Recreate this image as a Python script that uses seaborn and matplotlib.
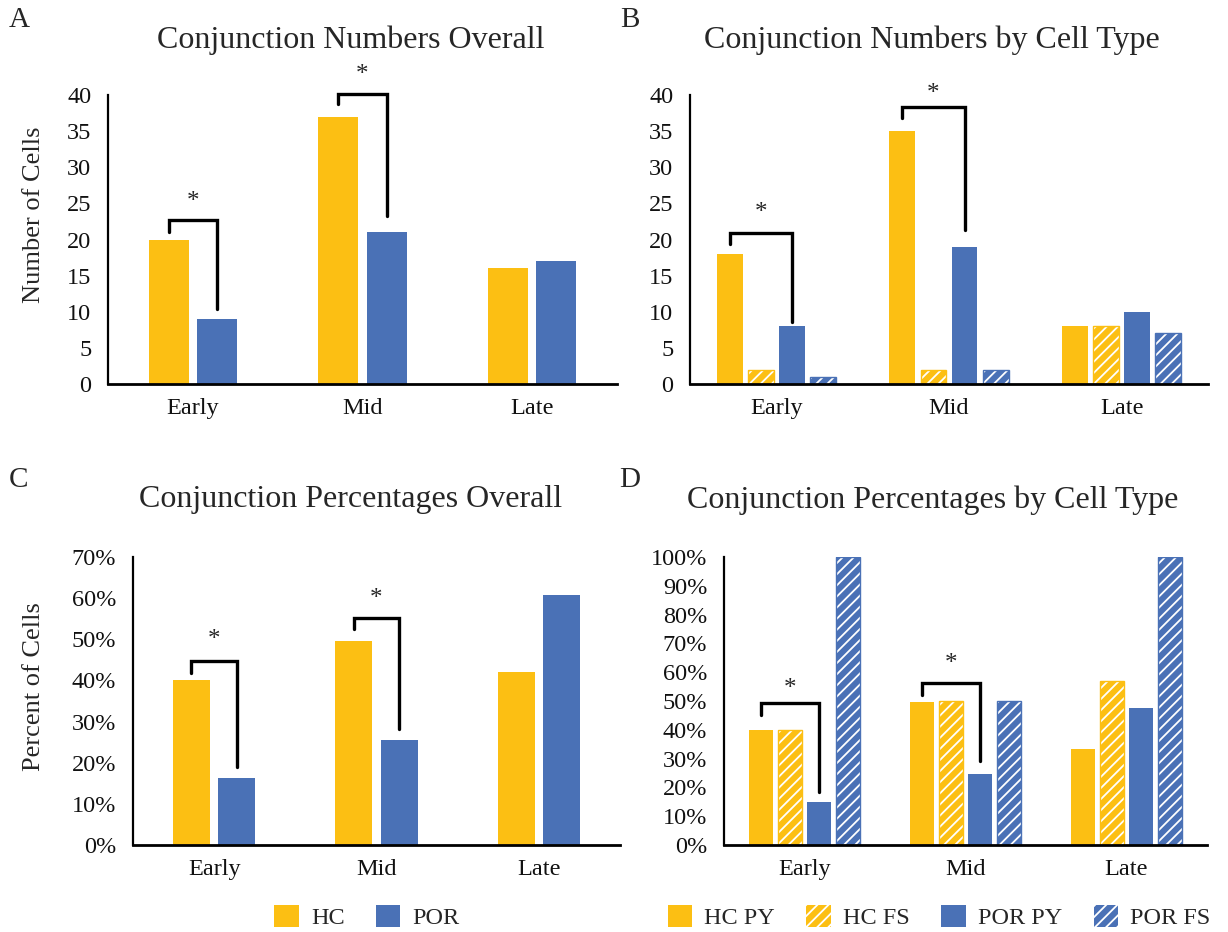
import matplotlib
matplotlib.use("Agg")
import matplotlib.pyplot as plt
import seaborn as sns
import pandas as pd
from matplotlib.patches import Patch, Rectangle
from matplotlib.ticker import FuncFormatter, MultipleLocator

# ---------------- data ----------------
stages = ["Early", "Mid", "Late"]
groups_overall = ["HC", "POR"]
groups_type = ["HC PY", "HC FS", "POR PY", "POR FS"]

count_hc = [20, 37, 16]
count_por = [9, 21, 17]

count_hc_py = [18, 35, 8]
count_hc_fs = [2, 2, 8]
count_por_py = [8, 19, 10]
count_por_fs = [1, 2, 7]

pct_hc = [40.0, 49.5, 42.0]
pct_por = [16.3, 25.5, 60.8]

pct_hc_py = [40.0, 49.7, 33.3]
pct_hc_fs = [40.0, 50.0, 57.1]
pct_por_py = [15.0, 24.5, 47.6]
pct_por_fs = [100.0, 50.0, 100.0]

# significance brackets: (stage index, bracket top, left leg end, right leg end, star y)
sig_A = [(0, 22.7, 21.1, 10.4, 25.2), (1, 40.2, 38.7, 23.3, 42.7)]
sig_B = [(0, 20.9, 19.4, 8.6, 23.6), (1, 38.3, 36.8, 21.3, 40.2)]
sig_C = [(0, 44.7, 41.9, 19.0, 49.8), (1, 55.2, 52.4, 28.2, 59.9)]
sig_D = [(0, 49.2, 45.3, 18.4, 54.2), (1, 56.2, 52.2, 29.2, 62.9)]

titles = ["Conjunction Numbers Overall", "Conjunction Numbers by Cell Type",
          "Conjunction Percentages Overall", "Conjunction Percentages by Cell Type"]
panel_letters = ["A", "B", "C", "D"]

YELLOW = "#FCBF13"
BLUE = "#4A71B6"
HATCH = "///"

# ---------------- style ----------------
sns.set_style("white")
plt.rcParams["font.family"] = ["Liberation Serif", "DejaVu Serif"]
plt.rcParams["hatch.linewidth"] = 1.3
plt.rcParams["hatch.color"] = "white"

W, H = 1228, 932
fig = plt.figure(figsize=(W / 100, H / 100), dpi=100)


def ax_rect(left, right, bottom, top):
    return [left / W, 1 - bottom / H, (right - left) / W, (bottom - top) / H]


axA = fig.add_axes(ax_rect(108, 617, 384, 95))
axB = fig.add_axes(ax_rect(690, 1208, 384, 95))
axC = fig.add_axes(ax_rect(133, 620, 845, 557))
axD = fig.add_axes(ax_rect(724, 1207, 845, 557))


def make_df(groups, series):
    rows = []
    for g, vals in zip(groups, series):
        for s, v in zip(stages, vals):
            rows.append({"stage": s, "group": g, "value": v})
    return pd.DataFrame(rows)


def draw(ax, groups, series, colors, hatched, width, gap, ymax, step, pct, sig, pair):
    df = make_df(groups, series)
    sns.barplot(data=df, x="stage", y="value", hue="group", order=stages,
                hue_order=groups, palette=colors, width=width, gap=gap,
                saturation=1, errorbar=None, legend=False, ax=ax,
                linewidth=0)
    bars = sorted(list(ax.patches), key=lambda p: p.get_x())
    n = len(groups)
    for i, p in enumerate(bars):
        gi = i % n
        if hatched[gi]:
            p.set_hatch(HATCH)
            p.set_edgecolor("white")
            p.set_linewidth(0)
            ax.add_patch(Rectangle(p.get_xy(), p.get_width(), p.get_height(),
                                   fill=False, edgecolor=colors[gi], lw=1.0,
                                   zorder=p.get_zorder() + 0.1))
    ax.set_ylim(0, ymax)
    ax.set_xlim(-0.5, len(stages) - 0.5)
    ax.yaxis.set_major_locator(MultipleLocator(step))
    if pct:
        ax.yaxis.set_major_formatter(FuncFormatter(lambda v, _: f"{v:.0f}%"))
    ax.set_xlabel("")
    ax.set_ylabel("")
    for s in ["top", "right"]:
        ax.spines[s].set_visible(False)
    ax.spines["left"].set_linewidth(1.6)
    ax.spines["bottom"].set_linewidth(2.0)
    ax.spines["left"].set_color("black")
    ax.spines["bottom"].set_color("black")
    ax.tick_params(axis="both", length=0, labelsize=17.5, colors="#111111")
    ax.tick_params(axis="y", pad=12)
    ax.tick_params(axis="x", pad=10)
    ax.grid(False)
    # significance brackets
    for (si, ytop, yl, yr, ystar) in sig:
        pl = bars[si * n + pair[0]]
        pr = bars[si * n + pair[1]]
        xl = pl.get_x() + pl.get_width() / 2
        xr = pr.get_x() + pr.get_width() / 2
        ax.plot([xl, xl, xr, xr], [yl, ytop, ytop, yr], color="black", lw=2.4,
                clip_on=False, solid_joinstyle="miter")
        ax.text((xl + xr) / 2, ystar, "*", ha="center", va="center", fontsize=18,
                clip_on=False)


draw(axA, groups_overall, [count_hc, count_por], [YELLOW, BLUE], [False, False],
     0.57, 0.17, 40, 5, False, sig_A, (0, 1))
draw(axB, groups_type, [count_hc_py, count_hc_fs, count_por_py, count_por_fs],
     [YELLOW, YELLOW, BLUE, BLUE], [False, True, False, True],
     0.72, 0.17, 40, 5, False, sig_B, (0, 2))
draw(axC, groups_overall, [pct_hc, pct_por], [YELLOW, BLUE], [False, False],
     0.56, 0.19, 70, 10, True, sig_C, (0, 1))
draw(axD, groups_type, [pct_hc_py, pct_hc_fs, pct_por_py, pct_por_fs],
     [YELLOW, YELLOW, BLUE, BLUE], [False, True, False, True],
     0.72, 0.20, 100, 10, True, sig_D, (0, 2))

axA.set_ylabel("Number of Cells", fontsize=19)
axC.set_ylabel("Percent of Cells", fontsize=19)
axA.yaxis.set_label_coords(-63 / 509, (384 - 215) / 289)
axC.yaxis.set_label_coords(-88 / 487, (845 - 687) / 288)

# titles and panel letters
title_pos = [(351, 40), (932, 40), (351, 500), (933, 500)]
letter_pos = [(19, 20), (630, 20), (19, 480), (630, 480)]
for t, (x, y) in zip(titles, title_pos):
    fig.text(x / W, 1 - y / H, t, ha="center", va="center", fontsize=23)
for l, (x, y) in zip(panel_letters, letter_pos):
    fig.text(x / W, 1 - y / H, l, ha="center", va="center", fontsize=21)

# legends
def handle(color, hatched):
    if hatched:
        return Patch(facecolor=color, edgecolor="white", hatch=HATCH, linewidth=0)
    return Patch(facecolor=color, edgecolor=color, linewidth=0)

hC = [handle(YELLOW, False), handle(BLUE, False)]
fig.legend(hC, groups_overall, loc="center", bbox_to_anchor=(367 / W, 1 - 917 / H),
           ncol=2, frameon=False, fontsize=17.5, handlelength=1.0, handleheight=1.0,
           columnspacing=1.3, handletextpad=0.5)
hD = [handle(YELLOW, False), handle(YELLOW, True), handle(BLUE, False), handle(BLUE, True)]
fig.legend(hD, groups_type, loc="center", bbox_to_anchor=(939 / W, 1 - 917 / H),
           ncol=4, frameon=False, fontsize=17.5, handlelength=1.0, handleheight=1.0,
           columnspacing=1.3, handletextpad=0.5)

fig.savefig("out.png", dpi=100)
